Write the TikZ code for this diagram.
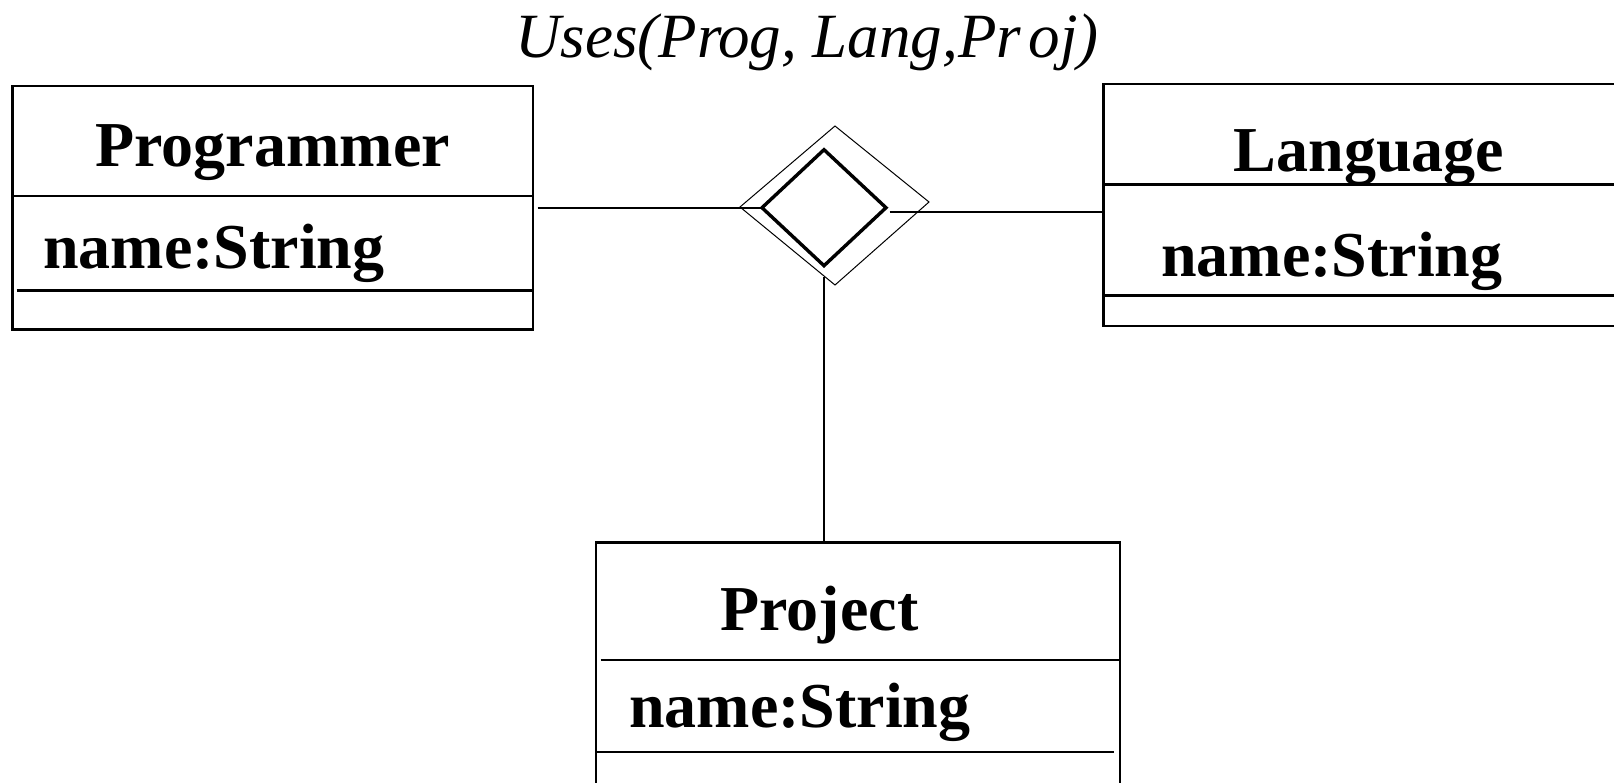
\documentclass[tikz,border=0pt]{standalone}
\usepackage{fontspec}
\setmainfont{Liberation Serif}
\usetikzlibrary{calc,shapes.geometric}
\tikzset{
  classbox/.style={draw, rectangle, line width=2.6bp, inner sep=0pt, outer sep=0pt},
  divider/.style={line width=2.6bp},
  conn/.style={line width=2.4bp},
  relbox/.style={draw, diamond, line width=3.4bp, inner sep=0pt, outer sep=0pt},
  relframe/.style={line width=1bp},
  boxtext/.style={inner sep=0pt, font=\fontsize{64bp}{70bp}\selectfont\bfseries},
  titletext/.style={inner sep=0pt, font=\fontsize{63bp}{70bp}\selectfont\itshape},
}
\begin{document}
\begin{tikzpicture}[x=1bp,y=-1bp]
\useasboundingbox (0,0) rectangle (1614,783);

% class boxes
\node[classbox, minimum width=520.7bp, minimum height=243.3bp] (prog) at (272.7,207.7) {};
\node[classbox, minimum width=536.7bp, minimum height=242bp] (lang) at (1371.7,205) {};
\node[classbox, minimum width=524bp, minimum height=277.3bp] (proj) at (858,681.3) {};

% compartments
\draw[divider] (prog.west |- 0,196) -- (prog.east |- 0,196);
\draw[divider] (16.7,290.7) -- (prog.east |- 0,290.7);
\draw[divider] (lang.west |- 0,184.3) -- (lang.east |- 0,184.3);
\draw[divider] (lang.west |- 0,295.7) -- (lang.east |- 0,295.7);
\draw[divider] (600.7,660) -- (proj.east |- 0,660);
\draw[divider] (proj.west |- 0,752) -- (1114,752);

% class names and attributes
\node[boxtext, anchor=base] (progname) at (272.7,166.7) {Programmer};
\node[boxtext, anchor=base west] (progattr) at (43,268) {name:String};
\node[boxtext, anchor=base] (langname) at (1369,171) {Language};
\node[boxtext, anchor=base west] (langattr) at (1161,276) {name:String};
\node[boxtext, anchor=base] (projname) at (819.5,630) {Project};
\node[boxtext, anchor=base west] (projattr) at (629,727) {name:String};

% ternary association
\draw[relframe] (835,126) -- (929,202) -- (835,285) -- (740,207) -- cycle;
\node[relbox, minimum width=124bp, minimum height=116bp] (rel) at (824,207.7) {};
\node[titletext, anchor=base] (title) at (807,58) {Uses(Pr\kern-0.05em og, Lang,Pr\kern0.12em oj)};

% association ends
\coordinate (langport) at (lang.west |- 0,211.7);
\coordinate (projport) at (rel.south |- proj.north);
\draw[conn] ($(prog.east)+(4.5,0)$) -- (rel.west);
\draw[conn] ($(rel.east)+(3.5,4)$) -- (langport);
\draw[conn] ($(rel.south)+(0,11)$) -- (projport);
\end{tikzpicture}
\end{document}
